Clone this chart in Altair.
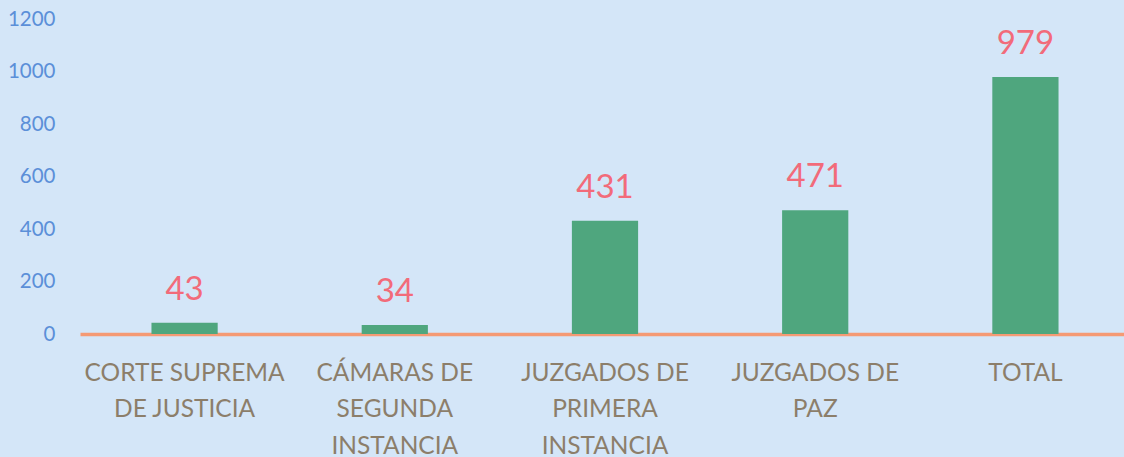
import altair as alt
import pandas as pd

categories = ["CORTE SUPREMA|DE JUSTICIA", "CÁMARAS DE|SEGUNDA|INSTANCIA",
              "JUZGADOS DE|PRIMERA|INSTANCIA", "JUZGADOS DE|PAZ", "TOTAL"]
values = [43, 34, 431, 471, 979]

df = pd.DataFrame({"cat": categories, "val": values})

FONT = "Lato"

x = alt.X("cat:N", sort=categories, title=None,
          scale=alt.Scale(paddingInner=0.685, paddingOuter=0.34, range=[0, 1050]),
          axis=alt.Axis(labelAngle=0, labelExpr="split(datum.label, '|')",
                        labelFont=FONT, labelFontSize=24.5, labelColor="#8C7E6A",
                        labelLineHeight=36.5, labelPadding=27, labelBaseline="top",
                        ticks=False, domainColor="#F59A74", domainWidth=3.5,
                        labelLimit=300))
y = alt.Y("val:Q", title=None,
          scale=alt.Scale(domain=[0, 1200]),
          axis=alt.Axis(values=[0, 200, 400, 600, 800, 1000, 1200], format="d",
                        labelFont=FONT, labelFontSize=20.5, labelColor="#5B8FD8",
                        labelPadding=25, ticks=False, domain=False, grid=False))

bars = alt.Chart(df).mark_bar(color="#4FA67E").encode(x=x, y=y)
labels = alt.Chart(df).mark_text(baseline="bottom", dy=-16, font=FONT,
                                 fontSize=33, color="#F26B7A").encode(
    x=alt.X("cat:N", sort=categories), y="val:Q", text="val:Q")

chart = (bars + labels).properties(
    width=1044, height=315,
    autosize=alt.AutoSizeParams(type="none"),
    padding={"left": 80, "top": 19, "right": 0, "bottom": 123},
    background="#D4E6F8",
).configure_view(stroke=None).configure_axis(grid=False)

chart.save("out.html", embed_options={"renderer": "svg", "actions": False})
